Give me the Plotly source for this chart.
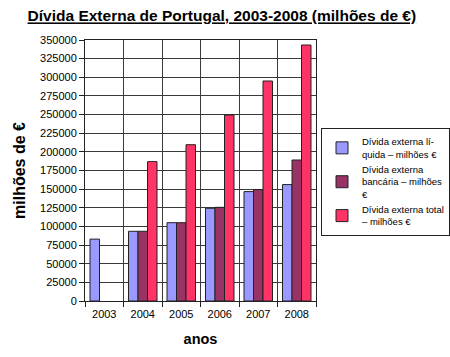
import plotly.graph_objects as go

anos = ["2003", "2004", "2005", "2006", "2007", "2008"]
liquida = [83000, 93500, 105000, 124300, 146700, 156100]
bancaria = [None, 93500, 105000, 125600, 149400, 189100]
total = [None, 186900, 209600, 249400, 295000, 343300]
y_ticks = list(range(0, 350001, 25000))

names = [
    "Dívida externa lí-<br>quida – milhões €",
    "Dívida externa<br>bancária – milhões<br>€",
    "Dívida externa total<br>– milhões €",
]
colors = ["#9999FF", "#993366", "#FF3366"]
series = [liquida, bancaria, total]

fig = go.Figure()
for n, c, s in zip(names, colors, series):
    fig.add_trace(go.Bar(x=anos, y=s, name=n, marker=dict(color=c, line=dict(color="#222222", width=1))))

font = "Liberation Sans, Arial, sans-serif"
fig.update_layout(
    width=450, height=357,
    margin=dict(l=85, r=134, t=40, b=56, autoexpand=False),
    paper_bgcolor="white", plot_bgcolor="white",
    barmode="group", bargap=0.26, bargroupgap=0,
    font=dict(family=font, size=11, color="black"),
    title=dict(
        text='<span style="text-decoration:underline"><b>Dívida Externa de Portugal, 2003-2008 (milhões de €)</b></span>',
        x=0.493, xanchor="center", y=1 - 16 / 357, yanchor="middle",
        font=dict(family=font, size=15.5, color="black"),
    ),
    legend=dict(
        xref="container", yref="container",
        x=321 / 450, xanchor="left", y=1 - 128 / 357, yanchor="top",
        bordercolor="#222222", borderwidth=1, bgcolor="white",
        font=dict(family=font, size=9.5, color="black"),
        tracegroupgap=0, itemwidth=30,
    ),
    showlegend=True,
)
fig.update_xaxes(
    type="category", tickson="boundaries", ticks="outside", ticklen=5, tickcolor="#222",
    showgrid=True, gridcolor="#3a3a3a", gridwidth=1,
    showline=True, linecolor="#222222", mirror=True, automargin=False,
    title=dict(text="<b>anos</b>", font=dict(size=14.5), standoff=14),
    tickfont=dict(size=11), ticklabelstandoff=3,
)
fig.update_yaxes(
    range=[0, 350000], tickvals=y_ticks, ticktext=[str(v) for v in y_ticks],
    ticks="outside", ticklen=5, tickcolor="#222",
    showgrid=True, gridcolor="#3a3a3a", gridwidth=1,
    showline=True, linecolor="#222222", mirror=True, zeroline=False, automargin=False,
    title=dict(text="<b>milhões de €</b>", font=dict(size=16), standoff=10),
    tickfont=dict(size=11),
)
fig.write_html("out.html", config={"displayModeBar": False},
               post_script="document.body.style.margin='0';")
